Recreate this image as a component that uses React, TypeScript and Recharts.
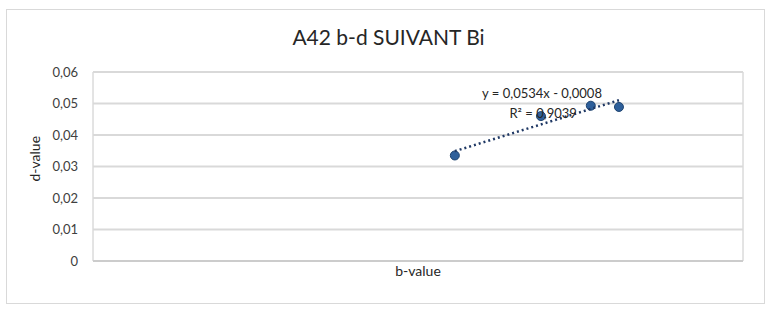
import React from "react";
import {
  ScatterChart,
  Scatter,
  XAxis,
  YAxis,
  CartesianGrid,
  ReferenceDot,
} from "recharts";

// b-value (x) and d-value (y)
const bValues = [0.668, 0.827, 0.919, 0.971];
const dValues = [0.0335, 0.046, 0.0493, 0.0489];
const yTicks = [0, 0.01, 0.02, 0.03, 0.04, 0.05, 0.06];
const xTicks = [0, 0.2, 0.4, 0.6, 0.8, 1.0, 1.2];
const trendSlope = 0.0534;
const trendIntercept = -0.0008;
const trendR2 = "0,9039";
const title = "A42 b-d SUIVANT Bi";

const points = bValues.map((b, i) => ({ x: b, y: dValues[i] }));
const xMin = Math.min(...bValues);
const xMax = Math.max(...bValues);
const trend = [xMin, xMax].map((x) => ({ x, y: trendSlope * x + trendIntercept }));

const FONT = "Lato, 'Open Sans', sans-serif";
const fmt = (v: number) => (v === 0 ? "0" : v.toFixed(2).replace(".", ","));

const Dot = (props: any) => {
  const { cx, cy } = props;
  if (cx == null || cy == null) return <g />;
  return <circle cx={cx} cy={cy} r={4.5} fill="#2E5F9A" stroke="#1F4470" strokeWidth={1} />;
};

export default function App() {
  return (
    <div style={{ position: "absolute", left: 0, top: 0, width: 771, height: 314, background: "#fff", fontFamily: FONT }}>
      <div
        style={{
          position: "absolute",
          left: 6,
          top: 9,
          width: 759,
          height: 295,
          border: "1px solid #D9D9D9",
          boxSizing: "border-box",
        }}
      />
      <div
        style={{
          position: "absolute",
          left: 0,
          width: 771,
          top: 24,
          textAlign: "center",
          fontSize: 21,
          color: "#262626",
          fontFamily: FONT,
          paddingLeft: 3,
        }}
      >
        {title}
      </div>
      <div style={{ position: "absolute", left: 0, top: 0 }}>
        <ScatterChart width={771} height={314} margin={{ top: 72, right: 28, bottom: 23, left: 33 }}>
          <CartesianGrid
            horizontal={false}
            stroke="#C8C8C8"
            strokeWidth={1}
          />
          <CartesianGrid vertical={false} stroke="#D9D9D9" strokeWidth={1.8} />
          <XAxis
            type="number"
            dataKey="x"
            domain={[0, 1.2]}
            ticks={xTicks}
            tick={false}
            tickLine={false}
            axisLine={{ stroke: "#BFBFBF", strokeWidth: 1.2 }}
            height={30}
            label={{ value: "b-value", position: "insideTop", offset: 5, fill: "#262626", fontSize: 14, fontFamily: FONT }}
          />
          <YAxis
            type="number"
            dataKey="y"
            domain={[0, 0.06]}
            ticks={yTicks}
            tickFormatter={fmt}
            tickLine={false}
            axisLine={false}
            tickSize={0}
            tickMargin={15}
            width={60}
            tick={{ fill: "#404040", fontSize: 13, fontFamily: FONT }}
            label={{ value: "d-value", angle: -90, position: "insideLeft", offset: 2, fill: "#262626", fontSize: 14, fontFamily: FONT, dy: 15 }}
          />
          <Scatter data={points} shape={Dot} isAnimationActive={false} />
          <Scatter
            data={trend}
            line={{ stroke: "#1F3864", strokeWidth: 2.5, strokeDasharray: "2 3" }}
            shape={() => <g />}
            isAnimationActive={false}
          />
          <ReferenceDot
            x={0.829}
            y={0.0531}
            r={0}
            fill="none"
            stroke="none"
            label={{ value: "y = 0,0534x - 0,0008", position: "center", fill: "#262626", fontSize: 13, fontFamily: FONT }}
          />
          <ReferenceDot
            x={0.831}
            y={0.0468}
            r={0}
            fill="none"
            stroke="none"
            label={{ value: `R² = ${trendR2}`, position: "center", fill: "#262626", fontSize: 13, fontFamily: FONT }}
          />
        </ScatterChart>
      </div>
    </div>
  );
}
